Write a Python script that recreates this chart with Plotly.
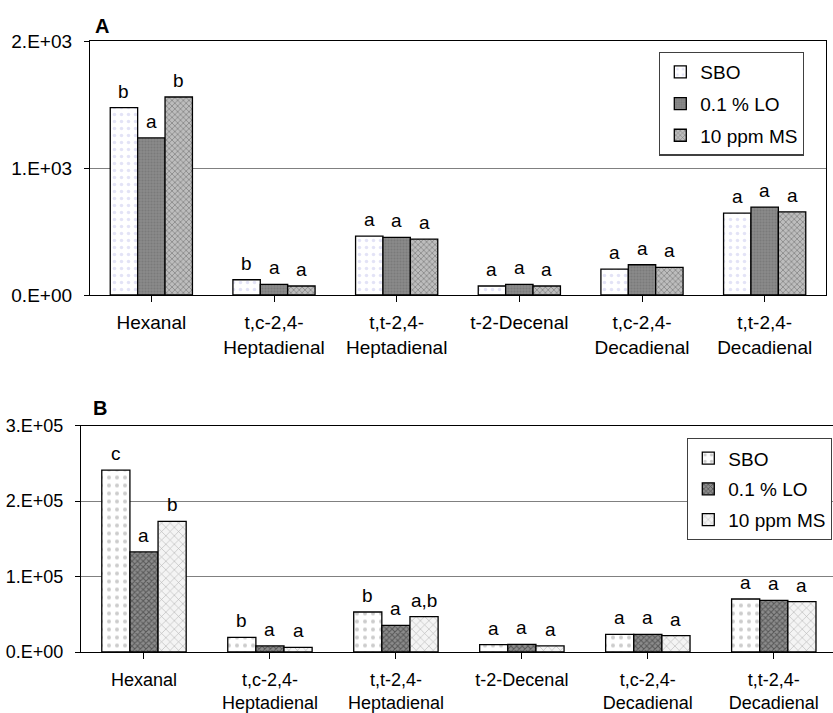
import plotly.graph_objects as go

W, H = 833, 713

categories = ["Hexanal", "t,c-2,4-<br>Heptadienal", "t,t-2,4-<br>Heptadienal",
              "t-2-Decenal", "t,c-2,4-<br>Decadienal", "t,t-2,4-<br>Decadienal"]
series_names = ["SBO", "0.1 % LO", "10 ppm MS"]

# Panel A values
a_sbo = [1476, 120, 464, 71, 204, 645]
a_lo = [1237, 84, 453, 84, 238, 692]
a_ms = [1559, 71, 440, 71, 218, 655]
a_letters = [["b", "b", "a", "a", "a", "a"],
             ["a", "a", "a", "a", "a", "a"],
             ["b", "a", "a", "a", "a", "a"]]

# Panel B values
b_sbo = [241000, 19500, 53000, 9700, 23400, 70200]
b_lo = [132500, 8000, 35300, 10100, 23400, 68500]
b_ms = [173000, 6200, 46800, 8000, 21600, 66600]
b_letters = [["c", "b", "b", "a", "a", "a"],
             ["a", "a", "a", "a", "a", "a"],
             ["b", "a", "a,b", "a", "a", "a"]]

a_ticks = [0, 1000, 2000]
a_ticktext = ["0.E+00", "1.E+03", "2.E+03"]
b_ticks = [0, 100000, 200000, 300000]
b_ticktext = ["0.E+00", "1.E+05", "2.E+05", "3.E+05"]

FONT = "Liberation Sans, Arial, sans-serif"
BARGAP = 0.33

styles_a = [
    dict(color="white", pattern=dict(shape=".", fgcolor="#c8c8ee", size=7, solidity=0.2)),
    dict(color="#808080", pattern=dict(shape=".", fgcolor="#6a6a6a", bgcolor="#8a8a8a", size=3, solidity=0.4)),
    dict(color="white", pattern=dict(shape="x", fgcolor="#4a4a4a", bgcolor="#bdbdbd", size=4, solidity=0.35)),
]
styles_b = [
    dict(color="white", pattern=dict(shape=".", fgcolor="#9a9a9a", size=8, solidity=0.2)),
    dict(color="#555555", pattern=dict(shape="x", fgcolor="#222222", bgcolor="#8c8c8c", size=4, solidity=0.45)),
    dict(color="white", pattern=dict(shape="x", fgcolor="#7a7a7a", bgcolor="#f4f4f4", size=6, solidity=0.2)),
]

fig = go.Figure()
xs = list(range(len(categories)))

for j, (name, vals) in enumerate(zip(series_names, [a_sbo, a_lo, a_ms])):
    st = styles_a[j]
    fig.add_trace(go.Bar(x=xs, y=vals, name=name, xaxis="x", yaxis="y",
                         legend="legend", legendgroup="a%d" % j,
                         marker=dict(color=st["color"], pattern=st["pattern"],
                                     line=dict(color="black", width=1.3))))
for j, (name, vals) in enumerate(zip(series_names, [b_sbo, b_lo, b_ms])):
    st = styles_b[j]
    fig.add_trace(go.Bar(x=xs, y=vals, name=name, xaxis="x2", yaxis="y2",
                         legend="legend2", legendgroup="b%d" % j,
                         marker=dict(color=st["color"], pattern=st["pattern"],
                                     line=dict(color="black", width=1.3))))

annotations = []
bw = (1 - BARGAP) / 3
for vals_list, letters, xr, yr, fs in [([a_sbo, a_lo, a_ms], a_letters, "x", "y", 19),
                                      ([b_sbo, b_lo, b_ms], b_letters, "x2", "y2", 19)]:
    for j in range(3):
        for i in range(len(categories)):
            annotations.append(dict(x=i + (j - 1) * bw, y=vals_list[j][i], xref=xr, yref=yr,
                                    text=letters[j][i], showarrow=False, yanchor="bottom",
                                    yshift=4, font=dict(size=fs, color="black", family=FONT)))

annotations.append(dict(x=93 / W, y=1 - 26 / H, xref="paper", yref="paper", text="<b>A</b>",
                        showarrow=False, xanchor="left", yanchor="middle",
                        font=dict(size=20, color="black", family=FONT)))
annotations.append(dict(x=91 / W, y=1 - 408 / H, xref="paper", yref="paper", text="<b>B</b>",
                        showarrow=False, xanchor="left", yanchor="middle",
                        font=dict(size=20, color="black", family=FONT)))

xaxis_common = dict(tickmode="array", tickvals=xs, ticktext=categories, ticks="outside",
                    tickson="boundaries", ticklen=6, tickcolor="black", showline=True,
                    linecolor="black", linewidth=1.3, showgrid=False, zeroline=False,
                    automargin=False)

fig.update_layout(
    width=W, height=H, margin=dict(l=0, r=0, t=0, b=0),
    paper_bgcolor="white", plot_bgcolor="white",
    barmode="group", bargap=BARGAP, bargroupgap=0,
    font=dict(family=FONT, size=19, color="black"),
    annotations=annotations,
    xaxis=dict(domain=[90 / W, 826 / W], anchor="y", range=[-0.5, 5.5], mirror=True,
               tickfont=dict(size=19), ticklabelstandoff=4, **xaxis_common),
    yaxis=dict(domain=[(H - 295) / H, (H - 41) / H], anchor="x", range=[0, 2000],
               tickmode="array", tickvals=a_ticks, ticktext=a_ticktext,
               ticks="outside", ticklen=5, tickcolor="black", showline=True,
               linecolor="black", linewidth=1.3, mirror=True, showgrid=True,
               gridcolor="#808080", gridwidth=1.3, zeroline=False, automargin=False,
               ticklabelstandoff=8, tickfont=dict(size=19)),
    xaxis2=dict(domain=[81 / W, 1.0], anchor="y2", range=[-0.5, 5.47], mirror=True,
                tickfont=dict(size=18), ticklabelstandoff=5, **xaxis_common),
    yaxis2=dict(domain=[(H - 652) / H, (H - 425.5) / H], anchor="x2", range=[0, 300000],
                tickmode="array", tickvals=b_ticks, ticktext=b_ticktext,
                ticks="outside", ticklen=5, tickcolor="black", showline=True,
                linecolor="black", linewidth=1.3, showgrid=True,
                gridcolor="#808080", gridwidth=1.3, zeroline=False, automargin=False,
                ticklabelstandoff=8, tickfont=dict(size=18)),
    legend=dict(x=804 / W, xanchor="right", y=1 - 51.7 / H, yanchor="top",
                bgcolor="white", bordercolor="#404040", borderwidth=1.3,
                font=dict(size=19, family=FONT), tracegroupgap=4, traceorder="grouped"),
    legend2=dict(x=832 / W, xanchor="right", y=1 - 438 / H, yanchor="top",
                 bgcolor="white", bordercolor="#404040", borderwidth=1.3,
                 font=dict(size=19, family=FONT), tracegroupgap=3, traceorder="grouped"),
)

fig.write_html("out.html", config={"displayModeBar": False},
               post_script="document.body.style.margin='0';document.body.style.overflow='hidden';")
